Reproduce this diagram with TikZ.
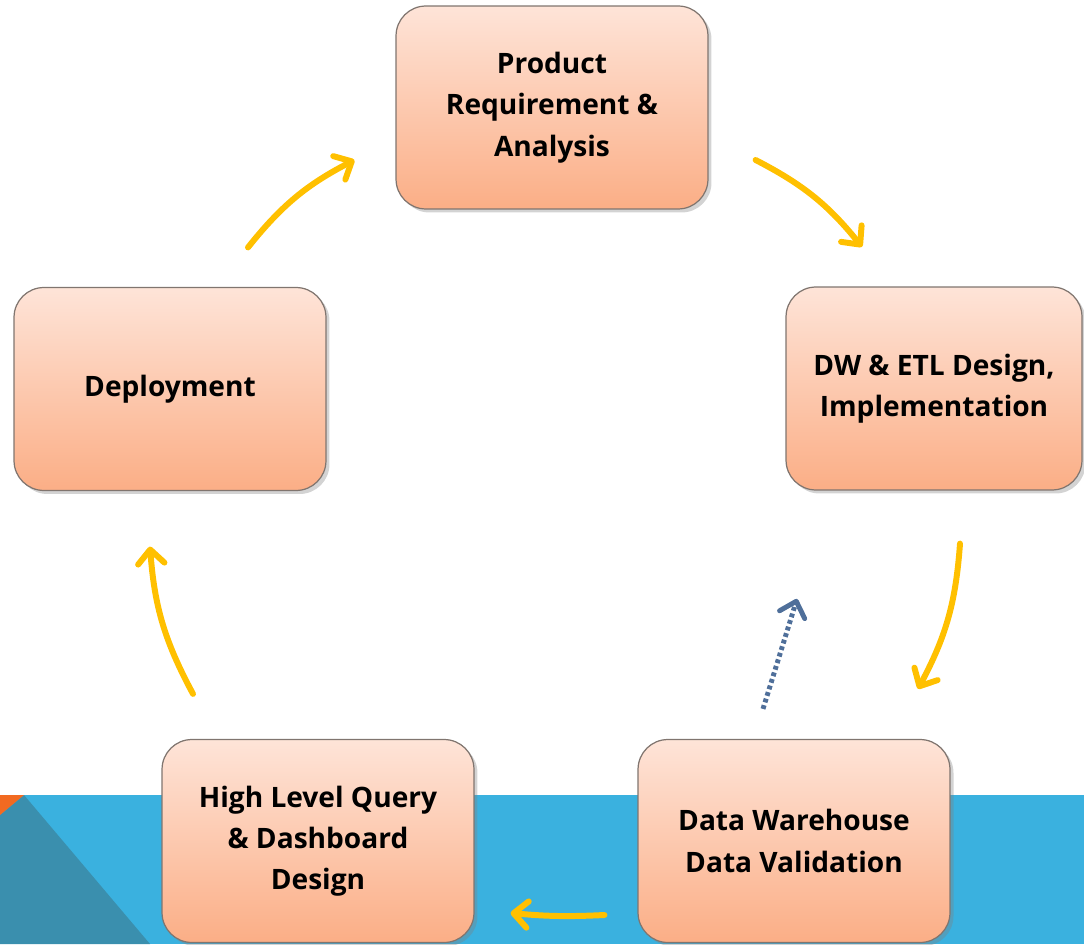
\documentclass[tikz,border=0pt]{standalone}
\usepackage{fontspec}
\setmainfont{Open Sans}
\usetikzlibrary{arrows.meta,shadows}
\definecolor{boxtop}{HTML}{FEE4D8}
\definecolor{boxbot}{HTML}{FBAE86}
\definecolor{boxline}{HTML}{80756F}
\definecolor{flowyel}{HTML}{FFC000}
\definecolor{bandblue}{HTML}{3AB1DF}
\definecolor{banddark}{HTML}{3A8FAE}
\definecolor{bandorange}{HTML}{F26A21}
\definecolor{dotblue}{HTML}{4F6F9A}
\begin{document}
\begin{tikzpicture}[x=0.02cm,y=0.02cm,
   stage/.style={draw=boxline,line width=0.7pt,rounded corners=17pt,
      top color=boxtop,bottom color=boxbot,minimum width=6.24cm,
      minimum height=4.06cm,inner sep=0pt,align=center,
      font=\fontsize{16}{23.5}\selectfont\bfseries,
      drop shadow={shadow xshift=2pt,shadow yshift=-2pt,opacity=0.35}},
   flow/.style={flowyel,line width=3.4pt,line cap=round,
      -{Straight Barb[length=8pt,width=15pt,round]}},
   back/.style={dotblue,line width=2.8pt,dash pattern=on 2.2pt off 1.7pt,
      -{Straight Barb[length=8pt,width=15pt,round,line cap=round]}}]
   \useasboundingbox (0,0) rectangle (1084,944);
   % Band
   \fill[bandblue]   (0,0) rectangle (1084,149);
   \fill[banddark]   (0,0) -- (150,0) -- (24,149) -- (0,129) -- cycle;
   \fill[bandorange] (0,129) -- (24,149) -- (0,149) -- cycle;
   % Stages
   \node[stage] (prod) at (552,836.5) {Product\\Requirement \&\\Analysis};
   \node[stage,minimum width=5.92cm] (etl) at (934,555.5) {DW \& ETL Design,\\Implementation};
   \node[stage] (dwv)  at (794,103) {Data Warehouse\\Data Validation};
   \node[stage] (hlq)  at (318,103) {High Level Query\\\& Dashboard\\Design};
   \node[stage] (dep)  at (170,555) {Deployment};
   % Cycle
   \draw[flow] ([shift={(78,39.5)}]dep.north) to[bend left=12] ([shift={(-41,-52.5)}]prod.west);
   \draw[flow] ([shift={(47,-52.5)}]prod.east) to[bend left=12] ([shift={(-72,39.5)}]etl.north);
   \draw[flow] ([shift={(26,-53)}]etl.south) to[bend left=12] ([shift={(124,50)}]dwv.north);
   \draw[flow] ([shift={(-33,-74)}]dwv.west) to[bend left=4] ([shift={(36,-72)}]hlq.east);
   \draw[flow] ([shift={(-125,45)}]hlq.north) to[bend left=12] ([shift={(-20,-55.5)}]dep.south);
   % Feedback
   \draw[back] ([shift={(-31,30)}]dwv.north) -- ([shift={(3,140)}]dwv.north);
\end{tikzpicture}
\end{document}
